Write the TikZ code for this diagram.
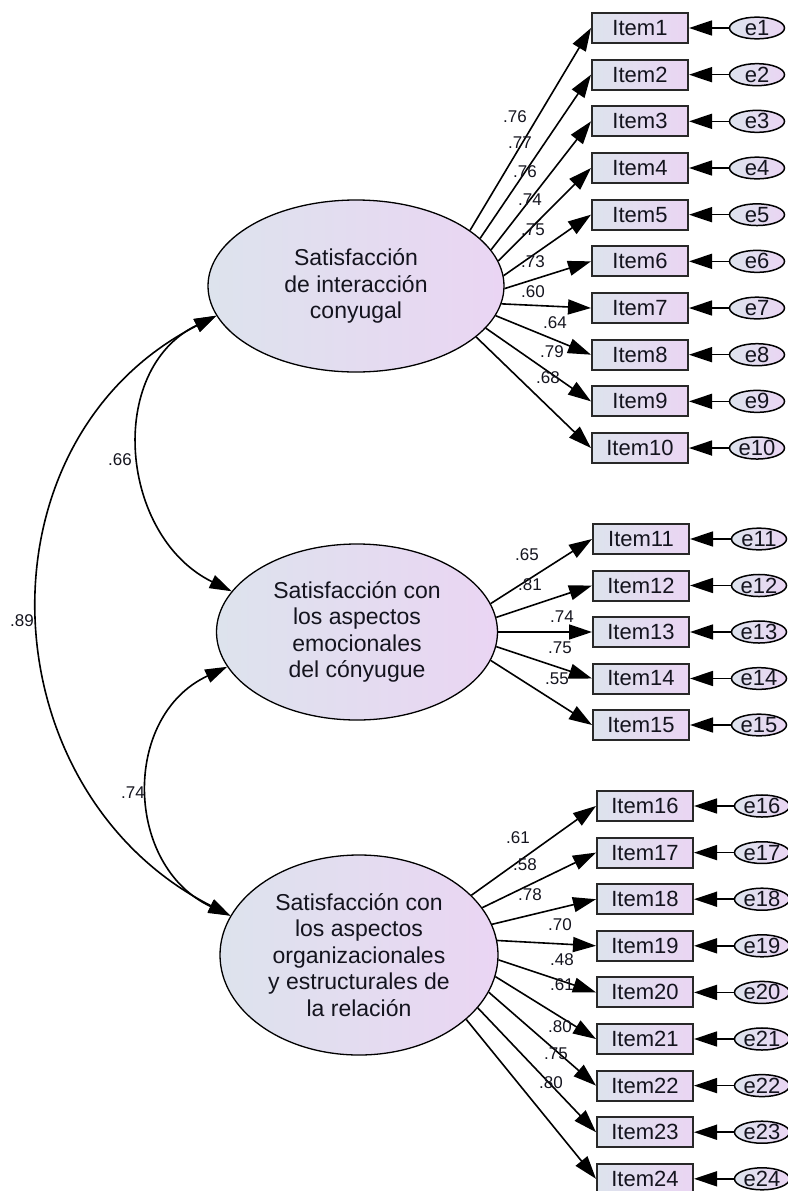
\documentclass[tikz,border=0pt]{standalone}
\usepackage{fontspec}
\setmainfont{Liberation Sans}
\usetikzlibrary{arrows.meta,shapes.geometric}

\definecolor{latleft}{RGB}{221,227,237}
\definecolor{latright}{RGB}{234,213,243}
\definecolor{boxline}{RGB}{40,40,40}
\definecolor{txt}{RGB}{20,20,30}

\begin{document}
\begin{tikzpicture}[x=1pt,y=-1pt,
    latent/.style={ellipse,draw,line width=1.3pt,left color=latleft,right color=latright,inner sep=0pt,align=center,text=txt,font=\fontsize{23}{26.5}\selectfont},
    item/.style={rectangle,draw=boxline,line width=2pt,left color=latleft,right color=latright,minimum width=96pt,minimum height=30pt,inner sep=0pt,text=txt,font=\fontsize{22}{24}\selectfont},
    err/.style={ellipse,draw,line width=1.5pt,left color=latleft,right color=latright,minimum width=55pt,minimum height=21pt,inner sep=0pt,text=txt,font=\fontsize{22}{24}\selectfont},
    load/.style={-{Triangle[length=23pt,width=15pt]},line width=1.6pt},
    cov/.style={{Triangle[length=22pt,width=14pt]}-{Triangle[length=22pt,width=14pt]},line width=1.6pt},
    coef/.style={inner sep=0pt,text=txt,font=\fontsize{17}{19}\selectfont}]
            \useasboundingbox (0,0) rectangle (787,1191);
            % factors
            \node[latent,minimum width=296pt,minimum height=172pt] (F1) at (356,286) {Satisfacción\\de interacción\\conyugal};
            \node[latent,minimum width=281pt,minimum height=176pt] (F2) at (357,632) {Satisfacción con\\los aspectos\\emocionales\\del cónyugue};
            \node[latent,minimum width=278pt,minimum height=200pt] (F3) at (359,955) {Satisfacción con\\los aspectos\\organizacionales\\y estructurales de\\la relación};
            % items and errors
            \foreach \i in {1,...,10}{
                \pgfmathsetmacro\yy{28+46.67*(\i-1)}
                \node[item] (I\i) at (640,\yy) {Item\i};
                \node[err] (e\i) at (757,\yy) {e\i};
                \draw[load] (e\i) -- (I\i);
            }
            \foreach \i in {11,...,15}{
                \pgfmathsetmacro\yy{539+46.5*(\i-11)}
                \node[item] (I\i) at (641,\yy) {Item\i};
                \node[err] (e\i) at (759,\yy) {e\i};
                \draw[load] (e\i) -- (I\i);
            }
            \foreach \i in {16,...,24}{
                \pgfmathsetmacro\yy{806+46.6*(\i-16)}
                \node[item] (I\i) at (645,\yy) {Item\i};
                \node[err] (e\i) at (762,\yy) {e\i};
                \draw[load] (e\i) -- (I\i);
            }
            % loadings
            \foreach \i/\a/\v/\lx/\ly in {1/26/.76/515/117,2/21/.77/520/143,3/15/.76/525/172,4/10/.74/530/200,5/4/.75/533/230,
                6/359/.73/533/262,7/353/.60/533/292,8/348/.64/555/323,9/342/.79/552/352,10/337/.68/548/378}{
                \draw[load] (F1.\a) -- (I\i.west);
                \node[coef] (l\i) at (\lx,\ly) {\v};
            }
            \foreach \i/\a/\v/\lx/\ly in {11/12/.65/527/555,12/6/.81/530/585,13/0/.74/562/617,14/354/.75/560/648,15/348/.55/557/679}{
                \draw[load] (F2.\a) -- (I\i.west);
                \node[coef] (l\i) at (\lx,\ly) {\v};
            }
            \foreach \i/\a/\v/\lx/\ly in {16/28/.61/518/838,17/21/.58/525/865,18/13/.78/530/895,19/6/.70/560/925,20/358/.48/562/960,
                21/351/.61/562/985,22/344/.80/560/1027,23/336/.75/556/1054,24/329/.80/551/1083}{
                \draw[load] (F3.\a) -- (I\i.west);
                \node[coef] (l\i) at (\lx,\ly) {\v};
            }
            % covariances
            \draw[cov] (F1.192) to[out=207,in=153,looseness=1.17] (F3.163);
            \draw[cov] (F1.192) to[out=206,in=154,looseness=1.15] (F2.162);
            \draw[cov] (F2.195) to[out=205,in=155,looseness=1.2] (F3.163);
            \node[coef] (r89) at (22,621) {.89};
            \node[coef] (r66) at (120,460) {.66};
            \node[coef] (r74) at (133,793) {.74};
        \end{tikzpicture}
\end{document}
